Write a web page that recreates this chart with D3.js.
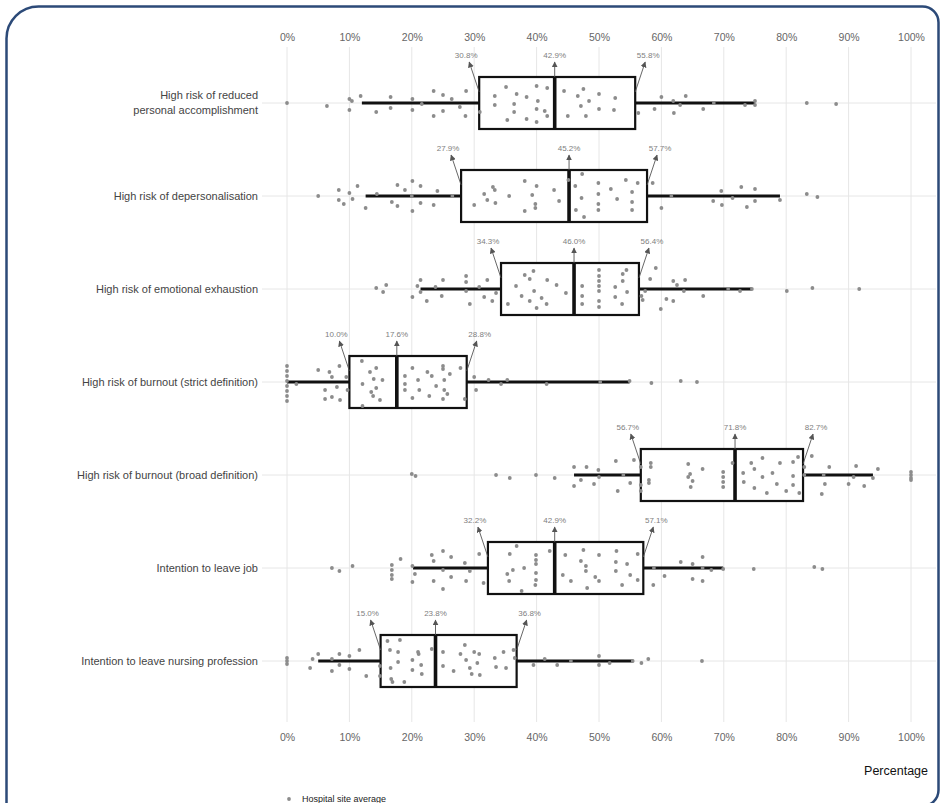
<!DOCTYPE html>
<html>
<head>
<meta charset="utf-8">
<script src="https://cdn.jsdelivr.net/npm/d3@7"></script>
<style>
  html, body { margin: 0; padding: 0; background: #fff; }
  svg { display: block; font-family: "Liberation Sans", Arial, sans-serif; }
</style>
</head>
<body>
<div id="chart-container"></div>
<script>
// Categories (top to bottom)
const categories = [
  'High risk of reduced\npersonal accomplishment',
  'High risk of depersonalisation',
  'High risk of emotional exhaustion',
  'High risk of burnout (strict definition)',
  'High risk of burnout (broad definition)',
  'Intention to leave job',
  'Intention to leave nursing profession'
];

// Box statistics (%)
const q1Values = [30.8, 27.9, 34.3, 10.0, 56.7, 32.2, 15.0];
const medianValues = [42.9, 45.2, 46.0, 17.6, 71.8, 42.9, 23.8];
const q3Values = [55.8, 57.7, 56.4, 28.8, 82.7, 57.1, 36.8];
const whiskerLow = [12.0, 12.6, 21.4, 0, 46.0, 20.2, 5.0];
const whiskerHigh = [75.0, 79.0, 74.5, 54.9, 93.9, 69.9, 55.5];

const tickValues = [0, 10, 20, 30, 40, 50, 60, 70, 80, 90, 100];

// Hospital site averages: [percentage, jitter (-1..1)]
const sitesAccomplishment = [
  [0, 0], [6.4, 0.15], [10.0, -0.2], [10.4, -0.1], [10.0, 0.35], [11.8, -0.35], [14.3, 0.45],
  [16.6, -0.3], [16.6, 0.25], [20.1, -0.2], [20.1, 0.35], [21.6, 0.05], [23.5, -0.6], [25.0, -0.4],
  [25.0, 0.4], [23.5, 0.65], [26.4, -0.2], [27.7, 0.2], [28.7, -0.6], [28.6, 0.65], [30.9, 0.45],
  [33.3, -0.35], [33.3, 0.1], [35.1, -0.8], [35.3, 0.85], [36.4, 0.05], [36.4, 0.45], [36.8, -0.45],
  [38.4, -0.3], [38.4, 0.8], [40.0, -0.85], [40.0, 0.3], [40.0, 0.95], [40.2, -0.1], [41.3, 0.4],
  [41.7, -0.75], [41.7, 0.65], [44.4, -0.6], [45.0, 0.65], [46.6, -0.35], [47.1, 0.15], [47.5, -0.7],
  [47.9, 0.65], [48.4, -0.1], [50.0, -0.45], [50.0, 0.3], [52.6, -0.25], [52.4, 0.35], [56.3, 0.5],
  [58.9, 0.3], [60.0, -0.3], [61.9, -0.1], [62.0, 0.5], [63.0, 0.1], [63.9, -0.35], [66.7, 0.3],
  [68.4, 0], [73.4, 0.1], [75.0, -0.1], [75.0, 0.1], [83.3, 0], [88.0, 0.05]
];
const sitesDepersonalisation = [
  [5.0, 0], [8.3, -0.3], [8.3, 0.2], [9.1, 0.4], [10.0, -0.15], [10.5, 0.15], [11.3, -0.5],
  [12.6, 0.6], [14.4, -0.1], [16.8, 0.3], [17.7, -0.55], [17.7, 0.5], [18.9, -0.3], [20.1, -0.75],
  [20.1, 0.75], [20.0, 0], [21.4, -0.5], [21.4, 0.35], [23.5, 0.45], [24.1, -0.25], [26.5, 0],
  [30.0, 0.45], [31.6, -0.1], [33.0, -0.45], [33.3, -0.3], [32.1, 0.2], [33.4, 0.35], [35.6, 0],
  [38.1, -0.75], [38.1, 0.75], [39.3, -0.05], [39.8, 0.4], [39.8, 0.6], [40.0, -0.5], [42.8, -0.3],
  [43.6, 0.25], [45.1, -0.8], [46.2, -0.5], [46.3, 0.7], [47.3, -1.1], [47.2, 0.1], [47.6, 1.05],
  [49.9, -0.65], [49.9, -0.1], [49.9, 0.4], [49.9, 0.7], [51.9, -0.35], [52.9, 0.15], [54.3, -0.8],
  [55.3, -0.2], [55.3, 0.3], [55.3, 0.7], [56.2, -0.65], [58.6, -0.65], [60.0, 0.6], [61.6, 0],
  [68.3, 0.25], [69.6, -0.25], [69.7, 0.45], [71.4, 0.1], [72.8, -0.45], [73.7, 0.55], [75.0, -0.35],
  [75.0, 0.25], [79.0, 0.2], [83.3, -0.1], [85.0, 0.05]
];
const sitesExhaustion = [
  [14.3, -0.05], [15.4, 0.15], [15.9, -0.2], [20.9, -0.15], [20.1, 0.4], [21.4, -0.45], [21.4, 0.15],
  [22.4, 0.6], [23.8, -0.1], [24.8, 0.35], [25.0, -0.45], [28.7, -0.65], [28.7, -0.35], [28.7, 0.1],
  [29.3, 0.75], [30.8, -0.1], [31.6, 0.4], [32.1, -0.45], [32.9, 0.6], [33.5, 0.2], [35.4, 0.75],
  [36.7, -0.15], [37.6, 0.35], [38.1, -0.7], [39.5, -0.9], [38.9, -0.5], [38.9, 0.6], [39.6, 0.1],
  [40.0, 0.95], [40.8, 0.45], [41.7, -0.45], [41.6, 0.75], [43.2, -0.2], [44.7, 0.2], [47.3, -0.15],
  [47.3, 0.35], [47.3, 0.75], [50.0, -0.95], [50.0, -0.65], [50.0, -0.4], [50.0, -0.15], [50.0, 0.1],
  [50.0, 0.6], [50.0, 0.9], [52.6, -0.1], [52.6, 0.4], [53.8, -0.75], [53.8, -0.4], [54.4, -0.95],
  [54.5, 0.15], [53.7, 0.75], [56.8, 0.35], [57.0, 0.55], [57.4, 0.1], [58.2, -0.5], [59.1, -1.05],
  [59.9, 1.0], [60.8, 0.5], [61.9, -0.4], [61.9, 0.6], [62.5, -0.2], [63.8, -0.45], [63.6, 0.1],
  [66.7, 0.35], [70.7, 0], [72.6, 0.1], [74.5, 0], [80.1, 0.1], [84.2, -0.05], [91.7, 0]
];
const sitesBurnoutStrict = [
  [0, -0.8], [0, -0.55], [0, -0.3], [0, -0.05], [0, 0.2], [0, 0.45], [0, 0.7], [0, 0.95],
  [1.5, 0.1], [5.0, -0.6], [6.8, -0.5], [7.2, -0.25], [6.1, 0.4], [6.1, 0.85], [7.2, 0.75],
  [8.4, -0.8], [8.5, 0.9], [8.0, 0.25], [9.5, -0.25], [9.7, 0.4], [12.0, -1.05], [12.1, 0.1],
  [12.1, 1.2], [13.3, -0.5], [13.5, 0.5], [14.3, -0.7], [13.9, -0.15], [14.3, 0.3], [15.3, -0.1],
  [13.8, 0.7], [14.9, 0.9], [18.9, -0.3], [18.9, 0.1], [18.9, 0.4], [20.1, -0.7], [20.1, 0.8],
  [21.0, -0.1], [21.2, 0.4], [22.5, -0.5], [22.8, 0.7], [23.2, -0.3], [23.9, 0.2], [25.0, -0.8],
  [25.0, -0.65], [25.2, -0.1], [25.2, 0.4], [25.0, 0.85], [26.1, -0.4], [25.7, 0.6], [27.8, -0.7],
  [28.5, 0.85], [30.0, -0.25], [30.3, 0.4], [32.3, -0.1], [34.3, 0.1], [35.3, -0.1], [41.6, 0.1],
  [50.2, 0], [54.9, -0.05], [58.4, 0.05], [63.1, -0.05], [65.7, 0]
];
const sitesBurnoutBroad = [
  [20.0, -0.05], [20.6, 0.05], [33.5, 0], [35.7, 0.15], [39.9, 0], [42.9, 0.15], [46.0, -0.4],
  [46.0, 0.55], [47.1, 0.25], [48.0, -0.4], [49.2, 0.45], [49.9, -0.25], [50.0, 0.1], [52.7, -0.7],
  [53.0, 0.8], [53.9, 0], [55.0, 0.4], [55.6, -0.75], [56.7, -0.4], [56.7, 0.5], [56.7, 0.8],
  [58.3, -0.6], [58.3, -0.4], [58.0, 0.25], [58.0, 0.4], [64.3, -0.55], [64.3, 0.1], [64.6, -0.05],
  [65.0, 0.3], [64.7, 0.6], [66.6, -0.3], [69.9, -0.15], [69.9, 0.1], [69.9, 0.35], [69.9, 0.6],
  [71.4, -0.6], [73.1, -0.1], [73.2, 0.35], [74.4, -0.6], [74.9, -0.3], [74.9, 0.65], [76.2, -0.85],
  [76.2, 0.1], [76.9, 0.9], [77.8, -0.1], [78.5, 0.45], [79.0, -0.6], [80.0, 0.8], [81.1, -0.65],
  [81.1, 0.05], [81.1, 0.5], [81.9, -0.9], [82.1, 0.9], [82.9, -0.4], [82.9, 0], [84.1, -0.95],
  [86.0, 0], [85.7, 0.95], [86.2, 0.45], [86.9, -0.4], [90.0, 0.45], [90.8, 0.1], [91.2, -0.45],
  [92.5, 0.55], [93.9, 0.15], [94.7, -0.3], [100, -0.15], [100, 0], [100, 0.15], [100, 0.25]
];
const sitesLeaveJob = [
  [7.2, 0], [8.4, 0.15], [10.5, -0.1], [16.8, -0.15], [16.8, 0.1], [16.8, 0.35], [16.8, 0.55],
  [18.2, -0.45], [20.1, -0.1], [20.1, 0.7], [20.5, 0.3], [23.2, -0.65], [23.5, -0.35], [23.5, 0.65],
  [25.0, -0.85], [25.0, 0.1], [25.0, 1.05], [26.3, -0.55], [26.3, 0.45], [28.5, -0.25], [28.7, 0.65],
  [29.3, 0.15], [30.8, -0.7], [31.5, 0.75], [35.7, -0.7], [35.3, 0.3], [35.6, 0.65], [36.8, -1.1],
  [36.2, 0.1], [38.0, 0], [37.6, 1.15], [39.9, -0.65], [39.9, -0.4], [39.9, -0.2], [39.9, 0.25],
  [39.9, 0.6], [39.8, 0.85], [42.1, -0.85], [44.6, -0.65], [44.2, 0.35], [45.5, 0.65], [47.5, -0.9],
  [47.1, -0.35], [47.9, 0.15], [47.9, -0.1], [49.4, 0.45], [50.0, -0.65], [50.0, 0.65], [48.1, 1.0],
  [52.8, -0.85], [52.7, -0.3], [52.7, 0.15], [53.7, 0.85], [54.5, -0.2], [55.0, 0.35], [56.2, -0.7],
  [56.2, 0.6], [58.7, 0.85], [58.8, 0], [60.5, 0.4], [63.1, -0.3], [65.0, -0.2], [65.0, 0.55],
  [66.6, -0.55], [66.6, 0], [66.6, 0.65], [68.0, 0.1], [69.9, 0.05], [74.8, 0.05], [84.5, -0.05],
  [85.8, 0.05]
];
const sitesLeaveProfession = [
  [0, -0.15], [0, 0], [0, 0.15], [3.7, 0.35], [4.1, -0.1], [5.0, -0.35], [7.2, 0.5], [7.2, -0.1],
  [8.4, -0.35], [8.4, 0.2], [10.0, -0.25], [10.0, 0.4], [11.6, -0.55], [12.7, 0.75], [14.9, 0.25],
  [14.9, 0.75], [16.1, -1.0], [16.5, -0.55], [16.6, 0.35], [16.7, 0.9], [16.9, 1.05], [17.8, -0.45],
  [17.8, 0.05], [18.1, -1.05], [18.8, 1.05], [20.1, -0.05], [20.1, 0.45], [21.0, -0.45], [21.1, -0.35],
  [21.5, 0.2], [21.6, 0.65], [23.2, -0.6], [25.0, -0.45], [25.0, 0.25], [26.7, 0.5], [27.8, -0.35],
  [28.5, -0.8], [28.7, -0.05], [29.3, 0.35], [29.6, 0.65], [30.0, -0.45], [30.5, 0.1], [30.8, -0.35],
  [30.9, 0.7], [33.3, -0.15], [33.5, 0.3], [34.7, -0.45], [35.1, 0.35], [36.3, -0.55], [36.5, -0.15],
  [39.5, 0.2], [41.3, -0.1], [43.3, 0.2], [45.5, 0], [50.0, -0.25], [50.0, 0.2], [51.7, 0.1],
  [55.4, 0], [56.8, 0.1], [57.9, -0.1], [66.5, 0]
];
const siteSeries = [
  sitesAccomplishment, sitesDepersonalisation, sitesExhaustion, sitesBurnoutStrict,
  sitesBurnoutBroad, sitesLeaveJob, sitesLeaveProfession
];

// Chart configuration
const width = 944;
const height = 803;
const panel = { left: 262, right: 936, top: 47, bottom: 722 };

const svg = d3.select('#chart-container')
  .append('svg')
  .attr('width', width)
  .attr('height', height);

// Frame: big rounded top-left corner, small ones on the right, bottom edge just off the page
const frame = d3.path();
frame.moveTo(6.5, 820);
frame.lineTo(6.5, 38);
frame.arcTo(6.5, 6.5, 38, 6.5, 32);
frame.lineTo(922, 6.5);
frame.arcTo(938.5, 6.5, 938.5, 23, 16);
frame.lineTo(938.5, 789);
frame.arcTo(938.5, 806, 922, 806, 16);
frame.lineTo(-10, 806);
svg.append('path')
  .attr('d', frame.toString())
  .attr('fill', 'none')
  .attr('stroke', '#2c4a78')
  .attr('stroke-width', 2.5);

// Scales
const xScale = d3.scaleLinear().domain([0, 100]).range([287, 911]);
const yScale = d3.scalePoint().domain(categories).range([103, 661]);
const jitterScale = d3.scaleLinear().domain([-1, 1]).range([-20, 20]);
const boxHalf = 26;
const fmt = d => d3.format('.1f')(d) + '%';

// Grid lines
const grid = svg.append('g');
grid.selectAll('.vgrid')
  .data(tickValues)
  .enter()
  .append('line')
  .attr('x1', d => xScale(d))
  .attr('x2', d => xScale(d))
  .attr('y1', panel.top)
  .attr('y2', panel.bottom)
  .attr('stroke', '#e6e6e6')
  .attr('stroke-width', 1);

grid.selectAll('.hgrid')
  .data(categories)
  .enter()
  .append('line')
  .attr('x1', panel.left)
  .attr('x2', panel.right)
  .attr('y1', d => yScale(d))
  .attr('y2', d => yScale(d))
  .attr('stroke', '#e6e6e6')
  .attr('stroke-width', 1);

// Axes (top and bottom)
const axisTop = svg.append('g')
  .attr('transform', `translate(0, ${panel.top - 4})`)
  .call(d3.axisTop(xScale).tickValues(tickValues).tickFormat(d => d + '%').tickSize(0).tickPadding(2));
const axisBottom = svg.append('g')
  .attr('transform', `translate(0, ${panel.bottom + 10})`)
  .call(d3.axisBottom(xScale).tickValues(tickValues).tickFormat(d => d + '%').tickSize(0).tickPadding(2));
[axisTop, axisBottom].forEach(a => {
  a.select('.domain').remove();
  a.selectAll('text')
    .attr('font-family', '"Liberation Sans", Arial, sans-serif')
    .attr('font-size', 10.5)
    .attr('fill', '#666');
});

// Category labels
categories.forEach(cat => {
  const lines = cat.split('\n');
  const cy = yScale(cat);
  lines.forEach((line, i) => {
    svg.append('text')
      .attr('x', 258)
      .attr('y', cy + (i - (lines.length - 1) / 2) * 15)
      .attr('dy', '0.35em')
      .attr('text-anchor', 'end')
      .attr('font-size', 11)
      .attr('fill', '#444')
      .text(line);
  });
});

// Arrow marker
svg.append('defs').append('marker')
  .attr('id', 'arrow')
  .attr('viewBox', '0 0 10 10')
  .attr('refX', 9)
  .attr('refY', 5)
  .attr('markerWidth', 6)
  .attr('markerHeight', 6)
  .attr('markerUnits', 'userSpaceOnUse')
  .attr('orient', 'auto')
  .append('path')
  .attr('d', 'M0,0 L10,5 L0,10 z')
  .attr('fill', '#555');

const boxes = svg.append('g');
categories.forEach((cat, i) => {
  const cy = yScale(cat);

  // Whiskers
  boxes.append('line')
    .attr('x1', xScale(whiskerLow[i]))
    .attr('x2', xScale(q1Values[i]))
    .attr('y1', cy).attr('y2', cy)
    .attr('stroke', '#111')
    .attr('stroke-width', 3);
  boxes.append('line')
    .attr('x1', xScale(q3Values[i]))
    .attr('x2', xScale(whiskerHigh[i]))
    .attr('y1', cy).attr('y2', cy)
    .attr('stroke', '#111')
    .attr('stroke-width', 3);

  // Box
  boxes.append('rect')
    .attr('x', xScale(q1Values[i]))
    .attr('y', cy - boxHalf)
    .attr('width', xScale(q3Values[i]) - xScale(q1Values[i]))
    .attr('height', boxHalf * 2)
    .attr('fill', '#fff')
    .attr('stroke', '#111')
    .attr('stroke-width', 2.2);

  // Median
  boxes.append('line')
    .attr('x1', xScale(medianValues[i]))
    .attr('x2', xScale(medianValues[i]))
    .attr('y1', cy - boxHalf)
    .attr('y2', cy + boxHalf)
    .attr('stroke', '#111')
    .attr('stroke-width', 3.6);

  // Annotations: Q1, median, Q3
  const notes = [
    { v: q1Values[i], x0: xScale(q1Values[i]), y0: cy - 11, x1: xScale(q1Values[i]) - 10, lx: xScale(q1Values[i]) - 13 },
    { v: medianValues[i], x0: xScale(medianValues[i]), y0: cy - boxHalf, x1: xScale(medianValues[i]), lx: xScale(medianValues[i]) },
    { v: q3Values[i], x0: xScale(q3Values[i]), y0: cy - 11, x1: xScale(q3Values[i]) + 10, lx: xScale(q3Values[i]) + 13 }
  ];
  notes.forEach(n => {
    boxes.append('line')
      .attr('x1', n.x0).attr('y1', n.y0)
      .attr('x2', n.x1).attr('y2', cy - 41)
      .attr('stroke', '#555')
      .attr('stroke-width', 0.9)
      .attr('marker-end', 'url(#arrow)');
    boxes.append('text')
      .attr('x', n.lx)
      .attr('y', cy - 48)
      .attr('dy', '0.35em')
      .attr('text-anchor', 'middle')
      .attr('font-size', 8)
      .attr('fill', '#808080')
      .text(fmt(n.v));
  });
});

// Hospital site points
const points = svg.append('g');
siteSeries.forEach((series, i) => {
  const cy = yScale(categories[i]);
  points.selectAll(null)
    .data(series)
    .enter()
    .append('circle')
    .attr('cx', d => xScale(d[0]))
    .attr('cy', d => cy + jitterScale(d[1]))
    .attr('r', 1.9)
    .attr('fill', '#8c8c8c');
});

// Axis title
svg.append('text')
  .attr('x', 928)
  .attr('y', 771)
  .attr('dy', '0.35em')
  .attr('text-anchor', 'end')
  .attr('font-size', 12.5)
  .attr('fill', '#111')
  .text('Percentage');

// Legend
svg.append('circle')
  .attr('cx', 289)
  .attr('cy', 799)
  .attr('r', 1.9)
  .attr('fill', '#8c8c8c');
svg.append('text')
  .attr('x', 302)
  .attr('y', 799)
  .attr('dy', '0.35em')
  .attr('font-size', 9)
  .attr('fill', '#222')
  .text('Hospital site average');
</script>
</body>
</html>
